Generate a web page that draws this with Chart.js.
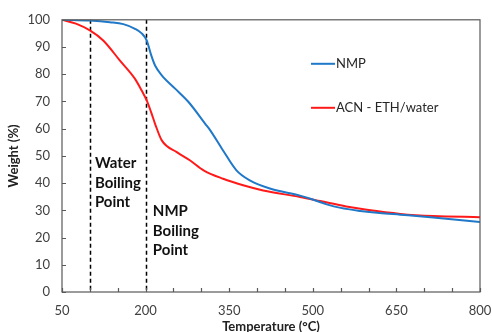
<!DOCTYPE html>
<html>
<head>
<meta charset="utf-8">
<script src="https://cdn.jsdelivr.net/npm/chart.js@4.4.1/dist/chart.umd.min.js"></script>
<style>
  html, body { margin: 0; padding: 0; background: #fff; }
  canvas { display: block; }
</style>
</head>
<body>
<canvas id="tgaChart" width="492" height="332"></canvas>
<script>
const nmpTemp = [50, 100, 136, 160, 181, 193, 202, 210, 217, 229, 253, 277, 307, 316, 339, 363, 387, 423, 477, 500, 525, 550, 585, 620, 657, 716, 800];
const nmpWeight = [100, 99.7, 99.1, 98.4, 96.7, 95.0, 92.4, 87.0, 83.2, 79.6, 74.7, 69.8, 61.8, 59.4, 52, 44.7, 41, 38, 35.4, 34, 32.2, 30.9, 29.8, 29.0, 28.4, 27.4, 25.7];

const acnTemp = [50, 75, 100, 124, 154, 181, 193, 202, 210, 217, 229, 256, 280, 304, 339, 375, 411, 477, 513, 560, 597, 657, 716, 800];
const acnWeight = [100, 98.6, 96.1, 92.4, 85, 78.3, 74, 70.4, 66, 61.8, 55.7, 51.4, 48.3, 44.7, 41.6, 39.2, 37.3, 34.9, 33.4, 31.4, 30.2, 28.7, 27.9, 27.5];

const seriesNames = ['NMP', 'ACN - ETH/water'];
const boilingPoints = [100, 200];
const boilingLabels = [['Water', 'Boiling', 'Point'], ['NMP', 'Boiling', 'Point']];

const FONT = 'Lato, "Open Sans", sans-serif';
const AXIS_COLOR = '#595959';

function toPoints(xs, ys) {
    return xs.map((x, i) => ({ x: x, y: ys[i] }));
}

// frame, inside tick marks, dashed boiling lines, labels and legend
const decorPlugin = {
    id: 'decor',
    beforeDatasetsDraw(chart) {
        const { ctx, chartArea: a, scales: { x } } = chart;
        ctx.save();
        ctx.strokeStyle = '#000';
        ctx.lineWidth = 1.5;
        ctx.setLineDash([4, 3]);
        boilingPoints.forEach(t => {
            const px = Math.round(x.getPixelForValue(t)) + 0.5;
            ctx.beginPath();
            ctx.moveTo(px, a.top);
            ctx.lineTo(px, a.bottom);
            ctx.stroke();
        });
        ctx.restore();
    },
    afterDraw(chart) {
        const { ctx, chartArea: a, scales: { x, y } } = chart;
        ctx.save();

        // frame
        ctx.strokeStyle = AXIS_COLOR;
        ctx.lineWidth = 1.2;
        ctx.strokeRect(a.left, a.top, a.right - a.left, a.bottom - a.top);

        // inside ticks
        ctx.beginPath();
        x.ticks.forEach(t => {
            const px = Math.round(x.getPixelForValue(t.value)) + 0.5;
            ctx.moveTo(px, a.bottom);
            ctx.lineTo(px, a.bottom - 4);
        });
        y.ticks.forEach(t => {
            const py = Math.round(y.getPixelForValue(t.value)) + 0.5;
            ctx.moveTo(a.left, py);
            ctx.lineTo(a.left + 4, py);
        });
        ctx.stroke();

        // boiling point labels
        ctx.fillStyle = '#111';
        ctx.font = 'bold 15px ' + FONT;
        ctx.textBaseline = 'middle';
        ctx.textAlign = 'left';
        const anchors = [{ t: 109, w: 47.2 }, { t: 213, w: 29.6 }];
        boilingLabels.forEach((lines, i) => {
            const px = x.getPixelForValue(anchors[i].t);
            const py = y.getPixelForValue(anchors[i].w);
            lines.forEach((txt, j) => ctx.fillText(txt, px, py + j * 19.5));
        });

        // legend
        ctx.font = '13px ' + FONT;
        ctx.fillStyle = '#262626';
        chart.data.datasets.forEach((ds, i) => {
            const ly = a.top + 44 + i * 44;
            ctx.strokeStyle = ds.borderColor;
            ctx.lineWidth = 2;
            ctx.beginPath();
            ctx.moveTo(311, ly);
            ctx.lineTo(335, ly);
            ctx.stroke();
            ctx.fillText(ds.label, 336, ly);
        });

        ctx.restore();
    }
};

new Chart(document.getElementById('tgaChart').getContext('2d'), {
    type: 'line',
    data: {
        datasets: [
            {
                label: seriesNames[0],
                data: toPoints(nmpTemp, nmpWeight),
                borderColor: '#1f78c8',
                borderWidth: 2,
                pointRadius: 0,
                cubicInterpolationMode: 'monotone',
                fill: false
            },
            {
                label: seriesNames[1],
                data: toPoints(acnTemp, acnWeight),
                borderColor: '#ff1a1a',
                borderWidth: 2,
                pointRadius: 0,
                cubicInterpolationMode: 'monotone',
                fill: false
            }
        ]
    },
    options: {
        responsive: false,
        animation: false,
        layout: { padding: { top: 19, right: 0, left: 0, bottom: 0 } },
        plugins: {
            legend: { display: false },
            tooltip: { enabled: false }
        },
        scales: {
            x: {
                type: 'linear',
                min: 50,
                max: 800,
                afterFit: s => { s.height = 40; s.paddingRight = 12; },
                grid: { display: false, drawTicks: false },
                border: { display: false },
                ticks: {
                    stepSize: 50,
                    padding: 11,
                    maxRotation: 0,
                    autoSkip: false,
                    color: '#404040',
                    font: { family: FONT, size: 13 },
                    callback: v => ((v - 50) % 150 === 0 ? v : '')
                },
                title: {
                    display: true,
                    text: 'Temperature (°C)',
                    color: '#222',
                    font: { family: FONT, size: 13, weight: 'bold' },
                    padding: { top: 0, bottom: -3 }
                }
            },
            y: {
                min: 0,
                max: 100,
                afterFit: s => { s.width = 62; },
                grid: { display: false, drawTicks: false },
                border: { display: false },
                ticks: {
                    stepSize: 10,
                    padding: 12,
                    color: '#404040',
                    font: { family: FONT, size: 13 }
                },
                title: {
                    display: true,
                    text: 'Weight (%)',
                    color: '#222',
                    font: { family: FONT, size: 13, weight: 'bold' },
                    padding: { top: 6, bottom: 0 }
                }
            }
        }
    },
    plugins: [decorPlugin]
});
</script>
</body>
</html>
